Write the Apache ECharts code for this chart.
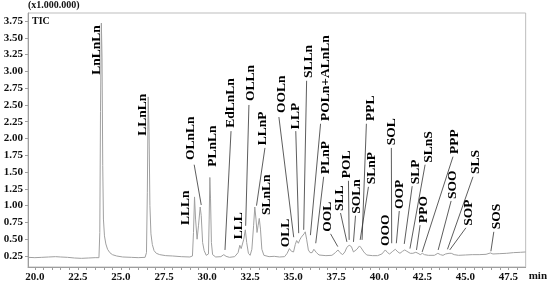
<!DOCTYPE html>
<html>
<head>
<meta charset="utf-8">
<script src="https://cdn.jsdelivr.net/npm/echarts@6/dist/echarts.min.js"></script>
<style>
    html, body { margin: 0; padding: 0; background: #fff; }
    #chart { width: 550px; height: 288px; }
</style>
</head>
<body>
<div id="chart"></div>
<script>
// retention time (min) and TIC signal (x1.000.000)
const rt = [
    19.6, 20.0, 20.4, 20.8, 21.2, 21.5, 21.9, 22.3, 22.7, 23.1, 23.5,
    23.72, 23.77, 23.81, 23.86, 23.9, 23.94, 23.98, 24.04, 24.12, 24.22, 24.35, 24.5, 24.75,
    25.1, 25.6, 26.0, 26.4,
    26.48, 26.53, 26.58, 26.63, 26.68, 26.74, 26.82, 26.92, 27.05, 27.25, 27.6,
    28.0, 28.5, 29.0,
    29.15, 29.21, 29.27, 29.33, 29.42, 29.5, 29.6, 29.66, 29.74, 29.83, 29.95,
    30.08, 30.12, 30.16, 30.2, 30.25, 30.32, 30.5, 30.8, 30.97, 31.1, 31.3,
    31.6, 31.8, 31.9, 31.98, 32.05, 32.13, 32.22, 32.3, 32.4, 32.5,
    32.6, 32.7, 32.77, 32.84, 32.9, 32.96, 33.03, 33.1, 33.18, 33.3,
    33.6, 33.9, 34.2, 34.5, 34.65, 34.78, 34.9, 35.02, 35.12, 35.2, 35.3, 35.4,
    35.47, 35.55, 35.63, 35.7, 35.78, 35.88, 35.98, 36.1, 36.2, 36.26, 36.35, 36.5,
    36.9, 37.25, 37.45, 37.6, 37.72, 37.87, 38.0, 38.12, 38.25, 38.38, 38.5,
    38.58, 38.7, 38.85, 38.95, 39.1, 39.27, 39.6, 39.9,
    40.15, 40.35, 40.48, 40.6, 40.78, 40.93, 41.08, 41.2, 41.35, 41.48, 41.6,
    41.8, 41.95, 42.12, 42.25, 42.38, 42.5, 42.62, 42.85, 43.2, 43.4, 43.55,
    43.7, 43.85, 43.95, 44.05, 44.18, 44.35, 44.6, 45.0, 45.4, 45.8, 46.2,
    46.45, 46.6, 47.0, 47.4, 47.8, 48.2, 48.5
];
const tic = [
    0.23, 0.225, 0.23, 0.235, 0.24, 0.235, 0.23, 0.22, 0.215, 0.22, 0.225,
    0.225, 0.6, 2.4, 3.72, 3.2, 1.6, 0.8, 0.55, 0.43, 0.35, 0.3, 0.27, 0.25,
    0.235, 0.23, 0.225, 0.23,
    0.3, 1.2, 2.62, 2.1, 1.0, 0.58, 0.42, 0.33, 0.29, 0.27, 0.255,
    0.25, 0.24, 0.235,
    0.25, 0.6, 1.13, 0.8, 0.5, 0.7, 0.98, 0.85, 0.45, 0.33, 0.26,
    0.28, 0.8, 1.42, 1.1, 0.45, 0.27, 0.235, 0.24, 0.27, 0.245, 0.23,
    0.24, 0.3, 0.41, 0.36, 0.34, 0.5, 0.64, 0.45, 0.29, 0.26,
    0.35, 0.7, 0.98, 0.8, 0.6, 0.7, 0.81, 0.65, 0.35, 0.26,
    0.24, 0.245, 0.235, 0.24, 0.29, 0.36, 0.32, 0.31, 0.42, 0.48, 0.44, 0.5,
    0.53, 0.51, 0.58, 0.61, 0.5, 0.34, 0.3, 0.3, 0.35, 0.36, 0.3, 0.265,
    0.255, 0.26, 0.3, 0.34, 0.3, 0.27, 0.31, 0.38, 0.41, 0.39, 0.31,
    0.3, 0.35, 0.4, 0.37, 0.31, 0.265, 0.255, 0.255,
    0.28, 0.34, 0.3, 0.28, 0.32, 0.35, 0.31, 0.29, 0.32, 0.34, 0.32,
    0.29, 0.29, 0.305, 0.29, 0.27, 0.29, 0.27, 0.26, 0.26, 0.29, 0.27,
    0.26, 0.28, 0.3, 0.29, 0.29, 0.27, 0.26, 0.265, 0.27, 0.27, 0.275,
    0.295, 0.28, 0.285, 0.29, 0.3, 0.305, 0.31
];

const xTicks = [20.0, 22.5, 25.0, 27.5, 30.0, 32.5, 35.0, 37.5, 40.0, 42.5, 45.0, 47.5];
const yTicks = [0.25, 0.5, 0.75, 1.0, 1.25, 1.5, 1.75, 2.0, 2.25, 2.5, 2.75, 3.0, 3.25, 3.5, 3.75];

const peakNames = [
    'LnLnLn', 'LLnLn', 'LLLn', 'OLnLn', 'PLnLn', 'EdLnLn', 'LLL', 'OLLn', 'LLnP', 'SLnLn',
    'OLL', 'OOLn', 'LLP', 'SLLn', 'POLn+ALnLn', 'PLnP', 'OOL', 'SLL', 'POL', 'SOLn',
    'SLnP', 'PPL', 'OOO', 'SOL', 'OOP', 'SLP', 'SLnS', 'PPO', 'PPP', 'SOO',
    'SLS', 'SOP', 'SOS'
];

// label layout: bottom of each rotated name, and leader line (from, to) in axis units
const labelAt = [
    [23.57, 2.95], [26.26, 2.04], [28.77, 0.71], [29.06, 1.68], [30.31, 1.58],
    [31.37, 2.16], [31.85, 0.50], [32.53, 2.56], [33.2, 1.9], [33.46, 0.86],
    [34.55, 0.38], [34.34, 2.38], [35.15, 2.14], [35.9, 2.90], [36.88, 2.26],
    [36.88, 1.47], [37.02, 0.61], [37.68, 0.92], [38.11, 1.41], [38.69, 0.88],
    [39.52, 1.32], [39.47, 2.26], [40.35, 0.40], [40.72, 1.90], [41.2, 0.95],
    [42.09, 1.32], [42.84, 1.64], [42.55, 0.74], [44.34, 1.77], [44.28, 1.1],
    [45.57, 1.47], [45.21, 0.70], [46.83, 0.65]
];
const leaderFrom = [
    null, null, null, [29.25, 1.61], null,
    [31.39, 2.11], null, [32.43, 2.5], [33.36, 1.86], null,
    null, [34.17, 2.32], [35.15, 2.11], [35.78, 2.86], [36.59, 2.22],
    [36.77, 1.43], [37.17, 0.58], [37.75, 0.89], [38.21, 1.37], [38.62, 0.85],
    [39.37, 1.28], [39.25, 2.22], null, [40.7, 1.86], [41.16, 0.92],
    [41.91, 1.29], [42.66, 1.61], [42.37, 0.71], [44.28, 1.73], [44.17, 1.07],
    [45.44, 1.43], [45.03, 0.67], [46.65, 0.61]
];
const leaderTo = [
    null, null, null, [29.66, 1.01], null,
    [31.04, 0.34], null, [32.24, 0.70], [32.87, 1.0], null,
    null, [35.03, 0.53], [35.32, 0.59], [35.61, 0.64], [36.0, 0.56],
    [36.31, 0.44], [37.59, 0.39], [38.12, 0.46], [38.25, 0.49], [38.5, 0.46],
    [38.89, 0.49], [39.0, 0.49], null, [40.72, 0.44], [40.99, 0.44],
    [41.45, 0.43], [41.78, 0.36], [42.16, 0.34], [42.49, 0.31], [43.42, 0.34],
    [43.96, 0.35], [44.09, 0.34], [46.48, 0.32]
];

const serif = '"Liberation Serif", "DejaVu Serif", serif';

function xTickMarks() {
    let out = [];
    for (let i = 40; i <= 96; i++) out.push(i / 2);
    return out;
}

let chart = echarts.init(document.getElementById('chart'));
chart.setOption({
    animation: false,
    grid: {
        left: 28, right: 22, top: 13, bottom: 21,
        show: true, borderColor: '#bdbdbd', borderWidth: 1
    },
    graphic: [
        { type: 'text', left: 28, top: 0,
          style: { text: '(x1.000.000)', font: 'bold 10px ' + serif, fill: '#111' } },
        { type: 'text', left: 32, top: 16,
          style: { text: 'TIC', font: 'bold 10px ' + serif, fill: '#111' } }
    ],
    xAxis: {
        type: 'value', min: 19.6, max: 48.5,
        name: 'min', nameLocation: 'end', nameGap: 3,
        nameTextStyle: { fontFamily: serif, fontWeight: 'bold', fontSize: 11, color: '#111',
            verticalAlign: 'top', padding: [4, 0, 0, 0] },
        axisLine: { lineStyle: { color: '#9e9e9e', width: 1 } },
        axisTick: { customValues: xTickMarks(), length: 3, lineStyle: { color: '#9e9e9e' } },
        axisLabel: {
            customValues: xTicks, margin: 5,
            fontFamily: serif, fontWeight: 'bold', fontSize: 11, color: '#111',
            formatter: v => v.toFixed(1)
        },
        splitLine: { show: false }
    },
    yAxis: {
        type: 'value', min: 0.086, max: 3.87,
        axisLine: { show: true, lineStyle: { color: '#9e9e9e', width: 1 } },
        axisTick: { show: true, customValues: yTicks, length: 3, lineStyle: { color: '#9e9e9e' } },
        axisLabel: {
            customValues: yTicks, margin: 5,
            fontFamily: serif, fontWeight: 'bold', fontSize: 11, color: '#111',
            formatter: v => v.toFixed(2)
        },
        splitLine: { show: false }
    },
    series: [
        {
            type: 'line',
            data: rt.map((t, i) => [t, tic[i]]),
            showSymbol: false,
            lineStyle: { color: '#a0a0a0', width: 1 },
            z: 2
        },
        {
            type: 'custom',
            data: labelAt,
            clip: false,
            z: 3,
            renderItem: function (params, api) {
                let i = params.dataIndex;
                let p = api.coord(labelAt[i]);
                let kids = [{
                    type: 'text',
                    x: p[0], y: p[1], rotation: Math.PI / 2,
                    style: {
                        text: peakNames[i], x: 0, y: 0,
                        align: 'left', verticalAlign: 'middle',
                        font: 'bold 13.5px ' + serif, fill: '#000'
                    }
                }];
                if (leaderFrom[i]) {
                    let a = api.coord(leaderFrom[i]);
                    let b = api.coord(leaderTo[i]);
                    kids.push({
                        type: 'line',
                        shape: { x1: a[0], y1: a[1], x2: b[0], y2: b[1] },
                        style: { stroke: '#333', lineWidth: 0.8 }
                    });
                }
                return { type: 'group', children: kids };
            }
        }
    ]
});
</script>
</body>
</html>
